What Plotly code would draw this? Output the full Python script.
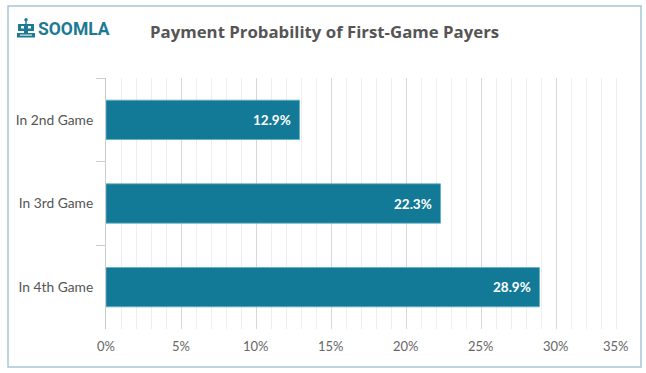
import plotly.graph_objects as go

categories = ["In 2nd Game", "In 3rd Game", "In 4th Game"]
values = [12.9, 22.3, 28.9]
tick_values = [0, 5, 10, 15, 20, 25, 30, 35]
tick_labels = ["0%", "5%", "10%", "15%", "20%", "25%", "30%", "35%"]
title_text = "Payment Probability of First-Game Payers"

W, H = 646, 373
L, R, T, B = 106, 15, 78, 44
PW, PH = W - L - R, H - T - B

def px(p):
    return (p - L) / PW

def py(p):
    return (H - B - p) / PH

TEAL = "#127a96"
LOGO = "#1d7a93"

fig = go.Figure()
fig.add_trace(go.Bar(
    y=categories, x=values, orientation="h",
    marker=dict(color=TEAL, line=dict(color="#5fb0c6", width=0.8)),
    hoverinfo="skip",
))

annotations = []
for c, v in zip(categories, values):
    annotations.append(dict(
        x=v, y=c, xref="x", yref="y", text=f"<b>{v:.1f}%</b>",
        showarrow=False, xanchor="right", yanchor="middle", xshift=-7,
        font=dict(family="Lato", size=13.5, color="white"),
    ))
for i, (tv, tl) in enumerate(zip(tick_values, tick_labels)):
    last = i == len(tick_values) - 1
    annotations.append(dict(
        x=tv, y=0, xref="x", yref="paper", text=tl, showarrow=False,
        xanchor="right" if last else "center", yanchor="middle", yshift=-17,
        font=dict(family="Lato", size=13, color="#666666"),
    ))
annotations.append(dict(
    x=px(324), y=py(32), xref="paper", yref="paper", text=f"<b>{title_text}</b>",
    showarrow=False, xanchor="center", yanchor="middle",
    font=dict(family="Open Sans", size=16.8, color="#555555"),
))
annotations.append(dict(
    x=px(36), y=py(29.5), xref="paper", yref="paper", text="<b>SOOMLA</b>",
    showarrow=False, xanchor="left", yanchor="middle",
    font=dict(family="Roboto", size=17.5, color=LOGO),
))

shapes = []
# outer border
shapes.append(dict(type="rect", xref="paper", yref="paper",
                   x0=px(8), x1=px(641), y0=py(367), y1=py(6),
                   line=dict(color="#a6c7d3", width=1.5), fillcolor="rgba(0,0,0,0)", layer="below"))

# robot icon
def rect(a, b, c, d, color):
    shapes.append(dict(type="rect", xref="paper", yref="paper",
                       x0=px(a), x1=px(c), y0=py(d), y1=py(b),
                       line=dict(width=0), fillcolor=color))

rect(25.3, 20, 26.7, 24, LOGO)
shapes.append(dict(type="circle", xref="paper", yref="paper",
                   x0=px(24.3), x1=px(27.7), y0=py(21.5), y1=py(18),
                   line=dict(width=0), fillcolor=LOGO))
rect(18, 24, 34, 31, LOGO)
rect(21, 26, 24, 28.5, "white")
rect(28, 26, 31, 28.5, "white")
rect(24, 31, 28, 33, LOGO)
rect(17, 33, 35, 37.5, LOGO)
rect(20, 34.6, 32, 35.6, "white")

fig.update_layout(
    width=W, height=H,
    margin=dict(l=L, r=R, t=T, b=B),
    paper_bgcolor="white", plot_bgcolor="white",
    showlegend=False,
    bargap=0.53,
    annotations=annotations,
    shapes=shapes,
    xaxis=dict(
        range=[0, 35], tickvals=tick_values, showticklabels=False,
        showgrid=True, gridcolor="#d8d8d8", gridwidth=1,
        minor=dict(dtick=1, showgrid=True, gridcolor="#eeeeee", gridwidth=1),
        zeroline=False, showline=False, fixedrange=True,
    ),
    yaxis=dict(
        autorange="reversed", showline=True, linecolor="#cccccc", linewidth=1,
        ticks="outside", tickson="boundaries", ticklen=9, tickcolor="#cccccc",
        tickfont=dict(family="Lato", size=13.8, color="#555555"),
        ticklabelstandoff=9, showgrid=False, zeroline=False, automargin=False,
    ),
    font=dict(family="Lato"),
)

fig.write_html(
    "out.html",
    config={"displayModeBar": False},
    post_script="document.body.style.margin='0';document.body.style.overflow='hidden';",
)
